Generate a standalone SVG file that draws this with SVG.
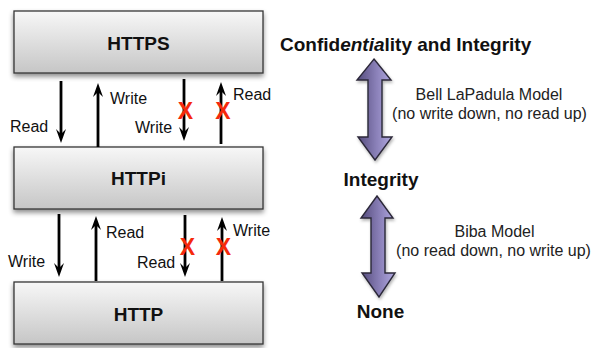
<svg xmlns="http://www.w3.org/2000/svg" width="595" height="348" viewBox="0 0 595 348">
  <defs>
    <linearGradient id="boxFill" x1="0" y1="0" x2="0" y2="1">
      <stop offset="0" stop-color="#f7f7f7"/>
      <stop offset="1" stop-color="#c6c6c6"/>
    </linearGradient>
    <linearGradient id="levelFill" x1="0" y1="0" x2="1" y2="0">
      <stop offset="0" stop-color="#544b7c"/>
      <stop offset="0.55" stop-color="#8a80b8"/>
      <stop offset="1" stop-color="#b1a9e0"/>
    </linearGradient>
    <filter id="boxShadow" x="-10%" y="-20%" width="120%" height="150%">
      <feDropShadow dx="0" dy="3" stdDeviation="2.5" flood-color="#000" flood-opacity="0.45"/>
    </filter>
    <filter id="arrowShadow" x="-30%" y="-10%" width="160%" height="120%">
      <feDropShadow dx="1" dy="2" stdDeviation="1.5" flood-color="#000" flood-opacity="0.3"/>
    </filter>
    <marker id="head" viewBox="0 0 14 10" markerUnits="userSpaceOnUse" markerWidth="14" markerHeight="10" refX="7" refY="5" orient="auto">
      <path d="M0,0 L14,5 L0,10 L5,5 Z" fill="#000"/>
    </marker>
  </defs>
  <style>
    .box { fill: url(#boxFill); stroke: #363636; stroke-width: 1.3; filter: url(#boxShadow); }
    .title { font-family: "Liberation Sans", Arial, sans-serif; font-weight: bold; font-size: 19px; fill: #111; text-anchor: middle; }
    .lbl { font-family: "Liberation Sans", Arial, sans-serif; font-size: 16px; fill: #111; }
    .flow { stroke: #000; stroke-width: 2.8; fill: none; marker-end: url(#head); }
    .deny { font-family: "Liberation Sans", Arial, sans-serif; font-weight: bold; font-size: 23px; fill: #f5290c; text-anchor: middle; }
    .level { font-family: "Liberation Sans", Arial, sans-serif; font-weight: bold; font-size: 19px; fill: #111; }
    .model { font-family: "Liberation Sans", Arial, sans-serif; font-size: 16px; fill: #222; text-anchor: middle; }
    .dbl { fill: url(#levelFill); stroke: #2b2838; stroke-width: 1.4; stroke-linejoin: miter; filter: url(#arrowShadow); }
  </style>

  <!-- protocol layers -->
  <g id="node-https">
    <rect class="box" x="14" y="11" width="249" height="62"/>
    <text class="title" x="138.5" y="50">HTTPS</text>
  </g>
  <g id="node-httpi">
    <rect class="box" x="14" y="147" width="249" height="62"/>
    <text class="title" x="138.5" y="185">HTTPi</text>
  </g>
  <g id="node-http">
    <rect class="box" x="14" y="282" width="249" height="62"/>
    <text class="title" x="138.5" y="321">HTTP</text>
  </g>

  <!-- security levels -->
  <g id="node-conf-integrity">
    <text class="level" x="280" y="51">Confid<tspan font-style="italic">entia</tspan>lity and Integrity</text>
  </g>
  <g id="node-integrity">
    <text class="level" x="381" y="186" text-anchor="middle">Integrity</text>
  </g>
  <g id="node-none">
    <text class="level" x="380.5" y="318" text-anchor="middle">None</text>
  </g>

  <g id="connectors">
    <!-- HTTPS / HTTPi -->
    <line class="flow" x1="61" y1="81" x2="61" y2="136"/>
    <line class="flow" x1="98" y1="147" x2="98" y2="90"/>
    <line class="flow" x1="184" y1="79" x2="184" y2="134"/>
    <line class="flow" x1="221" y1="144" x2="221" y2="89"/>
    <text class="lbl" x="10" y="132">Read</text>
    <text class="lbl" x="110" y="104">Write</text>
    <text class="lbl" x="135" y="133">Write</text>
    <text class="lbl" x="233" y="100">Read</text>
    <text class="deny" x="185.5" y="118.5">X</text>
    <text class="deny" x="223" y="118.5">X</text>

    <!-- HTTPi / HTTP -->
    <line class="flow" x1="59" y1="214" x2="59" y2="270"/>
    <line class="flow" x1="96" y1="281" x2="96" y2="223"/>
    <line class="flow" x1="185" y1="215" x2="185" y2="270"/>
    <line class="flow" x1="222" y1="281" x2="222" y2="224"/>
    <text class="lbl" x="8" y="267">Write</text>
    <text class="lbl" x="106" y="238">Read</text>
    <text class="lbl" x="137" y="268">Read</text>
    <text class="lbl" x="233" y="236">Write</text>
    <text class="deny" x="187.5" y="255">X</text>
    <text class="deny" x="223.5" y="255">X</text>

    <!-- level transitions -->
    <path class="dbl" d="M374,59 L391,80 L382,80 L382,137 L392,137 L375,160 L358,137 L368,137 L368,80 L357,80 Z"/>
    <text class="model" x="489" y="100">Bell LaPadula Model</text>
    <text class="model" x="489.5" y="119">(no write down, no read up)</text>

    <path class="dbl" d="M377,196 L393,218 L385,218 L385,273 L395,273 L379,297 L362,273 L371,273 L371,218 L361,218 Z"/>
    <text class="model" x="494.5" y="237">Biba Model</text>
    <text class="model" x="493.5" y="256">(no read down, no write up)</text>
  </g>
</svg>
